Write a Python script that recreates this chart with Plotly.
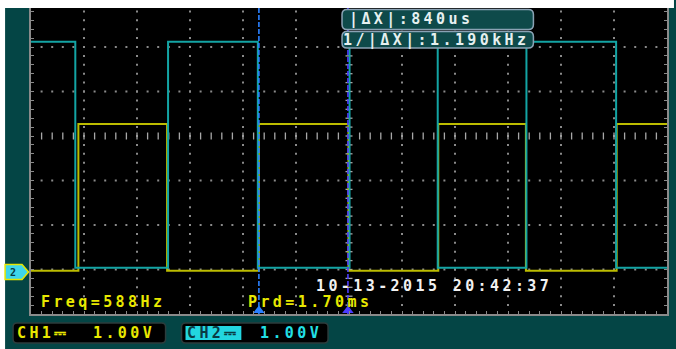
import plotly.graph_objects as go
import numpy as np

# ---------------- data ----------------
ch1_edge_ms = [-3.0, -2.553, -1.716, -0.851, -0.005, 0.842, 1.669, 2.525, 3.0]
ch1_volts = [0.0, 3.30, 0.0, 3.30, 0.0, 3.30, 0.0, 3.30, 3.30]
ch2_edge_ms = [-3.0, -2.582, -1.707, -0.860, 0.005, 0.837, 1.674, 2.520, 3.0]
ch2_volts = [5.15, 0.07, 5.15, 0.07, 5.15, 0.07, 5.15, 0.07, 0.07]
cursor_ms = [-0.85, -0.01]
volts_per_div = [1.00, 1.00]
ground_div = -3.03
time_per_div_ms = 0.5

freq_label = "Freq=588Hz"
prd_label = "Prd=1.70ms"
timestamp = "10-13-2015 20:42:37"
cursor_labels = ["|ΔX|:840us", "1/|ΔX|:1.190kHz"]
ch1_label = ["CH1⎓", "1.00V"]
ch2_label = ["CH2⎓", "1.00V"]

# ---------------- geometry / style ----------------
W, H = 676, 349
ML, MR, MT, MB = 31, 7, 8, 35
PW, PH = W - ML - MR, H - MT - MB
Y_DIV_PX = 44.5
X_RANGE = [-6 * time_per_div_ms, 6 * time_per_div_ms]
Y_RANGE = [-4.0, -4.0 + PH / Y_DIV_PX]

TEAL_BG = "#044545"
GRID = "#8a8a8a"
YEL_TRACE = "#bcbc00"
CYN_TRACE = "#13a4a4"
YEL_TEXT = "#e8e800"
CYN_TEXT = "#22e0e6"
FONT = "DejaVu Sans Mono"


def px(x):
    return (x - ML) / PW


def py(y):
    return (H - MB - y) / PH


def rrect(x0, y0, x1, y1, r):
    P = lambda x, y: f"{px(x):.5f},{py(y):.5f}"
    return (f"M{P(x0 + r, y0)} L{P(x1 - r, y0)} Q{P(x1, y0)} {P(x1, y0 + r)} "
            f"L{P(x1, y1 - r)} Q{P(x1, y1)} {P(x1 - r, y1)} L{P(x0 + r, y1)} "
            f"Q{P(x0, y1)} {P(x0, y1 - r)} L{P(x0, y0 + r)} Q{P(x0, y0)} {P(x0 + r, y0)} Z")


fig = go.Figure()

# graticule dots
xs_major = [X_RANGE[0] + i * time_per_div_ms for i in range(1, 12) if i != 6]
ys_major = [v for v in range(-3, 3) if v != 0]
x_sub = np.round(np.arange(X_RANGE[0] + 0.1, X_RANGE[1] - 0.05, 0.1), 4)
y_sub = np.round(np.arange(-4 + 0.2, Y_RANGE[1], 0.2), 4)
gx, gy = [], []
for xm in xs_major:
    gx += [xm] * len(y_sub)
    gy += list(y_sub)
for ym in ys_major:
    gx += list(x_sub)
    gy += [ym] * len(x_sub)
fig.add_trace(go.Scatter(x=gx, y=gy, mode="markers", hoverinfo="skip",
                         marker=dict(symbol="square", size=2, color=GRID, line=dict(width=0))))
# centre cross ticks
fig.add_trace(go.Scatter(x=list(x_sub), y=[0] * len(x_sub), mode="markers", hoverinfo="skip",
                         marker=dict(symbol="line-ns", size=5, line=dict(width=1.3, color="#a8a8a8"))))
fig.add_trace(go.Scatter(x=[0] * len(y_sub), y=list(y_sub), mode="markers", hoverinfo="skip",
                         marker=dict(symbol="line-ew", size=5, line=dict(width=1.3, color="#a8a8a8"))))

# signals
fig.add_trace(go.Scatter(x=ch1_edge_ms, y=[ground_div + v / volts_per_div[0] for v in ch1_volts],
                         mode="lines", line=dict(shape="hv", color=YEL_TRACE, width=2), name="CH1"))
fig.add_trace(go.Scatter(x=ch2_edge_ms, y=[ground_div + v / volts_per_div[1] for v in ch2_volts],
                         mode="lines", line=dict(shape="hv", color=CYN_TRACE, width=2), name="CH2"))

# cursors
cur_cols = ["#2a80ff", "#4a3cff"]
for c, col in zip(cursor_ms, cur_cols):
    fig.add_trace(go.Scatter(x=[c, c], y=Y_RANGE, mode="lines",
                             line=dict(color=col, width=1.6, dash="5px,2px"), hoverinfo="skip"))
fig.add_trace(go.Scatter(x=cursor_ms, y=[-4 + 3.5 / Y_DIV_PX] * 2, mode="markers", cliponaxis=False,
                         hoverinfo="skip",
                         marker=dict(symbol="triangle-up", size=10, color=cur_cols, line=dict(width=0))))

shapes = [
    dict(type="rect", xref="paper", yref="paper", x0=px(0), x1=px(W), y0=py(MT), y1=py(-2),
         fillcolor="white", line=dict(width=0), layer="above"),
    dict(type="rect", xref="paper", yref="paper", x0=px(-2), x1=px(5), y0=py(H + 2), y1=py(-2),
         fillcolor="white", line=dict(width=0), layer="above"),
    # cursor readout boxes
    dict(type="path", xref="paper", yref="paper", path=rrect(343, 9.5, 535, 29.5, 5),
         fillcolor="#0e4a4a", line=dict(color="#8aa2b4", width=1.5), layer="above"),
    dict(type="path", xref="paper", yref="paper", path=rrect(343, 31.5, 535, 48, 5),
         fillcolor="#0e4a4a", line=dict(color="#8aa2b4", width=1.5), layer="above"),
    # channel boxes
    dict(type="path", xref="paper", yref="paper", path=rrect(13, 323, 166, 343, 4),
         fillcolor="#000000", line=dict(color="#2c3c3c", width=1.5), layer="above"),
    dict(type="path", xref="paper", yref="paper", path=rrect(182, 323, 329, 343, 4),
         fillcolor="#000000", line=dict(color="#2c3c3c", width=1.5), layer="above"),
    dict(type="rect", xref="paper", yref="paper", x0=px(186), x1=px(242), y0=py(340), y1=py(326),
         fillcolor="#22d6e0", line=dict(width=0), layer="above"),
    # ground marker
    dict(type="path", xref="paper", yref="paper",
         path=(f"M{px(5)},{py(264.5)} L{px(22)},{py(264.5)} L{px(28.5)},{py(272)} "
               f"L{px(22)},{py(279.5)} L{px(5)},{py(279.5)} Z"),
         fillcolor="#3ed6ea", line=dict(color="#e6e600", width=1.5), layer="above"),
]


def label(s, x, y, color, size=15, ls=3.4):
    return dict(text=f'<span style="letter-spacing:{ls}px">{s}</span>', xref="paper", yref="paper",
                x=px(x), y=py(y), xanchor="left", yanchor="middle", showarrow=False,
                borderpad=0, borderwidth=0,
                font=dict(family=FONT, size=size, color=color, weight="bold"))


annotations = [
    label(freq_label, 41, 302, YEL_TEXT),
    label(prd_label, 249, 302, YEL_TEXT),
    label(timestamp, 317, 286, "#f2f2f2"),
    label(cursor_labels[0], 350, 20, "#e6f0f0"),
    label(cursor_labels[1], 344, 40.5, "#e6f0f0"),
    label(ch1_label[0], 17, 333, YEL_TEXT),
    label(ch1_label[1], 93, 333, YEL_TEXT),
    label(ch2_label[0], 187, 333, "#0a3c44"),
    label(ch2_label[1], 261, 333, CYN_TEXT),
    label("2", 10, 272, "#0a3c44", size=10, ls=0),
]

fig.update_layout(
    width=W, height=H, margin=dict(l=ML, r=MR, t=MT, b=MB, pad=0),
    paper_bgcolor=TEAL_BG, plot_bgcolor="#000000", showlegend=False,
    shapes=shapes, annotations=annotations,
    xaxis=dict(range=X_RANGE, showgrid=False, zeroline=False, showticklabels=False,
               showline=True, linecolor=GRID, linewidth=2, ticks="inside", ticklen=3,
               tickcolor=GRID, tickwidth=1, tickmode="linear", tick0=X_RANGE[0], dtick=0.1,
               fixedrange=True),
    yaxis=dict(range=Y_RANGE, showgrid=False, zeroline=False, showticklabels=False,
               showline=True, linecolor=GRID, linewidth=2, mirror="ticks", ticks="inside",
               ticklen=3, tickcolor=GRID, tickwidth=1, tickmode="linear", tick0=-4, dtick=0.2,
               fixedrange=True),
)

fig.write_html("out.html")
